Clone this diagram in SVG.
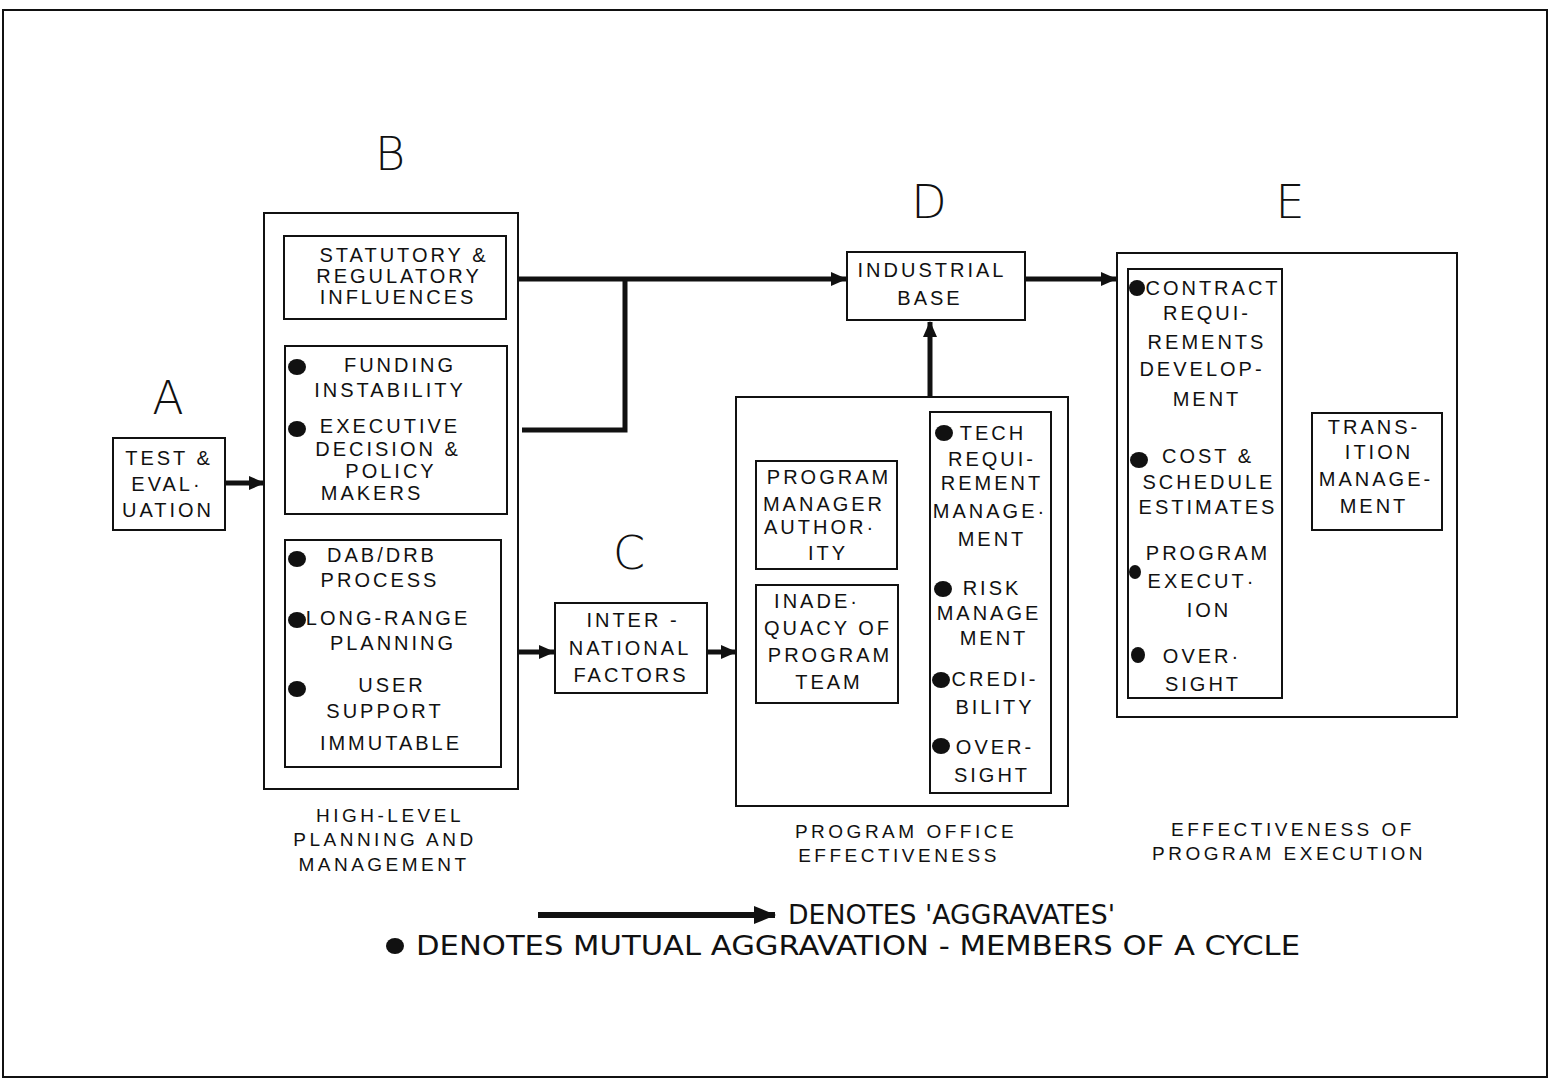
<svg xmlns="http://www.w3.org/2000/svg" width="1550" height="1078" viewBox="0 0 1550 1078">
<style>
.bg{fill:#fff}
.frame{fill:none;stroke:#111;stroke-width:2}
.box{fill:#fff;stroke:#111;stroke-width:2}
.t{font-family:"Liberation Sans",Arial,sans-serif;font-size:20px;letter-spacing:3px;fill:#111;text-anchor:middle}
.lab{font-family:"Liberation Sans",Arial,sans-serif;font-size:19px;letter-spacing:3.5px;fill:#111;text-anchor:middle}
.big{font-family:"DejaVu Sans",sans-serif;font-weight:200;font-size:46px;fill:#111;text-anchor:middle}
.leg{font-family:"DejaVu Sans Condensed","DejaVu Sans",sans-serif;font-size:26px;fill:#111}
.c{fill:none;stroke:#111;stroke-width:5}
.cs{fill:none;stroke:#111;stroke-width:3}
.dot{fill:#111}
</style>
<defs>
<marker id="ah" markerUnits="userSpaceOnUse" markerWidth="16" markerHeight="14" refX="15" refY="7" orient="auto"><path d="M0,0 L16,7 L0,14 z" fill="#111"/></marker>
<marker id="ahs" markerUnits="userSpaceOnUse" markerWidth="12" markerHeight="10" refX="11" refY="5" orient="auto"><path d="M0,0 L12,5 L0,10 z" fill="#111"/></marker>
<marker id="ahl" markerUnits="userSpaceOnUse" markerWidth="22" markerHeight="18" refX="21" refY="9" orient="auto"><path d="M0,0 L22,9 L0,18 z" fill="#111"/></marker>
</defs>
<rect class="bg" x="0" y="0" width="1550" height="1078"/>
<rect class="frame" x="3" y="10" width="1544" height="1067"/>

<text class="big" x="168" y="414">A</text>
<text class="big" x="390" y="170">B</text>
<text class="big" x="629" y="569">C</text>
<text class="big" x="929" y="218">D</text>
<text class="big" x="1290" y="218">E</text>

<g id="connectors">
<line class="c" x1="225" y1="483" x2="264" y2="483" marker-end="url(#ah)"/>
<line class="c" x1="506" y1="279" x2="846" y2="279" marker-end="url(#ah)"/>
<path class="c" d="M522,430 H625 V279"/>
<line class="c" x1="518" y1="652" x2="554" y2="652" marker-end="url(#ah)"/>
<line class="c" x1="707" y1="652" x2="736" y2="652" marker-end="url(#ah)"/>
<line class="c" x1="930" y1="397" x2="930" y2="322" marker-end="url(#ah)"/>
<line class="c" x1="1025" y1="279" x2="1116" y2="279" marker-end="url(#ah)"/>
<line class="cs" x1="897" y1="517" x2="930" y2="517" marker-end="url(#ahs)"/>
<line class="cs" x1="898" y1="636" x2="930" y2="636" marker-end="url(#ahs)"/>
<line class="cs" x1="1282" y1="458" x2="1312" y2="458" marker-end="url(#ahs)"/>
</g>

<g id="nodeA">
<rect class="box" x="113" y="438" width="112" height="92"/>
<text class="t" x="169" y="465">TEST &amp;</text>
<text class="t" x="167" y="491">EVAL·</text>
<text class="t" x="168" y="517">UATION</text>
</g>

<g id="nodeB">
<rect class="box" x="264" y="213" width="254" height="576"/>
<g id="nodeB1">
<rect class="box" x="284" y="236" width="222" height="83"/>
<text class="t" x="404" y="262">STATUTORY &amp;</text>
<text class="t" x="399" y="283">REGULATORY</text>
<text class="t" x="398" y="304">INFLUENCES</text>
</g>
<g id="nodeB2">
<rect class="box" x="285" y="346" width="222" height="168"/>
<ellipse class="dot" cx="297" cy="367" rx="9" ry="8"/>
<text class="t" x="400" y="372">FUNDING</text>
<text class="t" x="390" y="397">INSTABILITY</text>
<ellipse class="dot" cx="297" cy="429" rx="9" ry="8"/>
<text class="t" x="390" y="433">EXECUTIVE</text>
<text class="t" x="388" y="456">DECISION &amp;</text>
<text class="t" x="391" y="478">POLICY</text>
<text class="t" x="372" y="500">MAKERS</text>
</g>
<g id="nodeB3">
<rect class="box" x="285" y="540" width="216" height="227"/>
<ellipse class="dot" cx="297" cy="559" rx="9" ry="8"/>
<text class="t" x="382" y="562">DAB/DRB</text>
<text class="t" x="380" y="587">PROCESS</text>
<ellipse class="dot" cx="297" cy="620" rx="9" ry="8"/>
<text class="t" x="388" y="625">LONG-RANGE</text>
<text class="t" x="393" y="650">PLANNING</text>
<ellipse class="dot" cx="297" cy="689" rx="9" ry="8"/>
<text class="t" x="392" y="692">USER</text>
<text class="t" x="385" y="718">SUPPORT</text>
<text class="t" x="391" y="750">IMMUTABLE</text>
</g>
<text class="lab" x="390" y="822">HIGH-LEVEL</text>
<text class="lab" x="385" y="846">PLANNING AND</text>
<text class="lab" x="384" y="871">MANAGEMENT</text>
</g>

<g id="nodeC">
<rect class="box" x="555" y="603" width="152" height="90"/>
<text class="t" x="633" y="627">INTER -</text>
<text class="t" x="630" y="655">NATIONAL</text>
<text class="t" x="631" y="682">FACTORS</text>
</g>

<g id="nodeD">
<rect class="box" x="847" y="252" width="178" height="68"/>
<text class="t" x="932" y="277">INDUSTRIAL</text>
<text class="t" x="930" y="305">BASE</text>
</g>

<g id="nodeProgramOffice">
<rect class="box" x="736" y="397" width="332" height="409"/>
<g id="nodePMAuthority">
<rect class="box" x="756" y="461" width="141" height="108"/>
<text class="t" x="829" y="484">PROGRAM</text>
<text class="t" x="824" y="511">MANAGER</text>
<text class="t" x="820" y="534">AUTHOR·</text>
<text class="t" x="828" y="560">ITY</text>
</g>
<g id="nodeInadequacy">
<rect class="box" x="756" y="585" width="142" height="118"/>
<text class="t" x="817" y="608">INADE·</text>
<text class="t" x="828" y="635">QUACY OF</text>
<text class="t" x="830" y="662">PROGRAM</text>
<text class="t" x="829" y="689">TEAM</text>
</g>
<g id="nodeTech">
<rect class="box" x="930" y="412" width="121" height="381"/>
<ellipse class="dot" cx="944" cy="433" rx="9" ry="8"/>
<text class="t" x="993" y="440">TECH</text>
<text class="t" x="992" y="466">REQUI-</text>
<text class="t" x="992" y="490">REMENT</text>
<text class="t" x="990" y="518">MANAGE·</text>
<text class="t" x="992" y="546">MENT</text>
<ellipse class="dot" cx="943" cy="589" rx="9" ry="8"/>
<text class="t" x="992" y="595">RISK</text>
<text class="t" x="989" y="620">MANAGE</text>
<text class="t" x="994" y="645">MENT</text>
<ellipse class="dot" cx="941" cy="680" rx="9" ry="8"/>
<text class="t" x="995" y="686">CREDI-</text>
<text class="t" x="995" y="714">BILITY</text>
<ellipse class="dot" cx="941" cy="746" rx="9" ry="8"/>
<text class="t" x="995" y="754">OVER-</text>
<text class="t" x="992" y="782">SIGHT</text>
</g>
<text class="lab" x="906" y="838">PROGRAM OFFICE</text>
<text class="lab" x="899" y="862">EFFECTIVENESS</text>
</g>

<g id="nodeE">
<rect class="box" x="1117" y="253" width="340" height="464"/>
<g id="nodeEcol">
<rect class="box" x="1128" y="269" width="154" height="429"/>
<ellipse class="dot" cx="1137" cy="288" rx="8" ry="8"/>
<text class="t" x="1213" y="295">CONTRACT</text>
<text class="t" x="1207" y="320">REQUI-</text>
<text class="t" x="1207" y="349">REMENTS</text>
<text class="t" x="1202" y="376">DEVELOP-</text>
<text class="t" x="1207" y="406">MENT</text>
<ellipse class="dot" cx="1139" cy="460" rx="9" ry="8"/>
<text class="t" x="1208" y="463">COST &amp;</text>
<text class="t" x="1209" y="489">SCHEDULE</text>
<text class="t" x="1208" y="514">ESTIMATES</text>
<text class="t" x="1208" y="560">PROGRAM</text>
<ellipse class="dot" cx="1135" cy="572" rx="6" ry="7"/>
<text class="t" x="1202" y="588">EXECUT·</text>
<text class="t" x="1209" y="617">ION</text>
<ellipse class="dot" cx="1138" cy="655" rx="7" ry="8"/>
<text class="t" x="1202" y="663">OVER·</text>
<text class="t" x="1203" y="691">SIGHT</text>
</g>
<g id="nodeTransition">
<rect class="box" x="1312" y="413" width="130" height="117"/>
<text class="t" x="1374" y="434">TRANS-</text>
<text class="t" x="1379" y="459">ITION</text>
<text class="t" x="1376" y="486">MANAGE-</text>
<text class="t" x="1374" y="513">MENT</text>
</g>
<text class="lab" x="1293" y="836">EFFECTIVENESS OF</text>
<text class="lab" x="1289" y="860">PROGRAM EXECUTION</text>
</g>

<g id="legend">
<line x1="538" y1="915" x2="775" y2="915" stroke="#111" stroke-width="6" marker-end="url(#ahl)"/>
<text class="leg" x="788" y="924" textLength="327" lengthAdjust="spacingAndGlyphs">DENOTES 'AGGRAVATES'</text>
<ellipse class="dot" cx="395" cy="946" rx="9" ry="8"/>
<text class="leg" x="416" y="955" textLength="884" lengthAdjust="spacingAndGlyphs">DENOTES MUTUAL  AGGRAVATION - MEMBERS OF A CYCLE</text>
</g>
</svg>
